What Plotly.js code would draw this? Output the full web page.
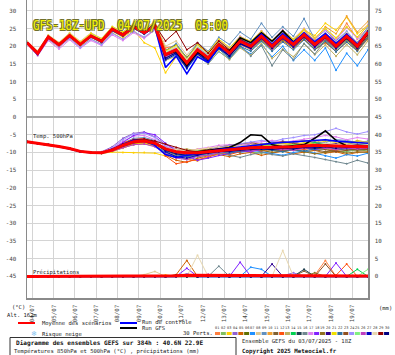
<!DOCTYPE html>
<html><head><meta charset="utf-8">
<script src="https://cdn.plot.ly/plotly-3.0.1.min.js"></script>
<style>html,body{margin:0;padding:0;background:#fff;}#c{width:395px;height:355px;}</style>
</head><body><div id="c"></div>
<script>
// ---------- DATA (12-hourly, from 03/07 18Z to 19/07 18Z) ----------
const runStart = Date.UTC(2025, 6, 3, 18);
const stepHours = 12;
const dayTicks = ['2025-07-04','2025-07-05','2025-07-06','2025-07-07','2025-07-08','2025-07-09','2025-07-10','2025-07-11','2025-07-12','2025-07-13','2025-07-14','2025-07-15','2025-07-16','2025-07-17','2025-07-18','2025-07-19'];
const dayLabels = ['04/07','05/07','06/07','07/07','08/07','09/07','10/07','11/07','12/07','13/07','14/07','15/07','16/07','17/07','18/07','19/07'];
const leftTicks = [-45,-40,-35,-30,-25,-20,-15,-10,-5,0,5,10,15,20,25,30];
const rightTicks = [0,5,10,15,20,25,30,35,40,45,50,55,60,65,70,75];
const memberColors = ['#ff8040','#80c060','#ffd000','#9060d0','#d06000','#607000','#2090ff','#e0c890','#6090c0','#f0a030','#806030','#ff5010','#c0b060','#00d050','#204050','#708890','#e080f0','#8020ff','#907020','#300090','#f0e000','#3070a0','#905020','#a090ff','#80f080','#c040c0','#0000c0','#e8d8b0','#900000','#000080'];

const t850Mean = [21.0,18.0,22.6,20.4,23.0,20.5,22.9,21.4,24.8,23.2,25.5,23.8,25.8,17.6,19.0,15.3,19.0,16.7,20.5,18.1,21.4,20.0,22.8,20.0,22.8,20.5,23.2,20.5,22.8,20.0,22.8,20.0,24.0];
const t850Control = [21.0,17.6,22.4,20.3,22.8,20.4,22.8,21.2,24.6,23.0,25.3,23.6,25.4,14.0,17.2,12.2,17.0,15.4,20.0,17.8,21.6,20.4,23.4,20.6,23.6,21.0,23.8,21.2,23.6,20.8,23.4,20.6,24.2];
const t850Gfs = [21.1,18.2,22.8,20.6,23.1,20.6,23.0,21.6,25.0,23.4,25.8,24.0,26.2,17.5,18.6,14.6,18.4,16.4,20.6,18.6,22.4,21.0,23.8,21.4,24.4,21.2,23.6,20.6,22.6,19.8,22.4,19.8,23.6];
const t850Members = [
[21.2,18.3,22.4,20.6,23.3,20.2,23.1,21.0,24.5,23.6,25.9,24.2,26.3,19.5,20.2,16.0,20.4,17.8,21.9,19.0,22.5,21.3,24.2,21.0,23.8,21.8,24.6,21.2,23.5,21.6,26.5,22.0,25.0],
[20.8,17.8,22.8,20.1,22.7,20.8,22.5,21.6,25.1,22.8,25.0,23.5,25.4,16.5,18.0,14.2,18.1,15.5,19.4,17.0,20.6,19.0,21.5,19.2,21.8,19.6,22.0,19.3,21.8,19.2,21.6,19.0,22.8],
[21.1,18.2,22.5,20.3,23.1,20.6,22.7,21.2,24.3,22.5,24.6,21.0,19.5,12.5,17.0,14.0,18.5,16.0,21.0,18.5,22.0,20.5,23.5,21.0,23.5,22.0,24.5,23.0,26.5,24.5,28.2,23.5,26.0],
[20.9,17.9,22.7,20.5,23.2,20.4,23.0,21.5,25.0,23.4,25.6,24.0,26.0,18.3,19.8,15.0,18.6,16.2,20.0,17.5,21.0,19.6,22.5,19.4,22.2,20.0,22.6,19.8,22.0,19.4,22.3,19.5,23.5],
[21.0,18.4,22.3,20.2,22.8,20.7,23.2,21.3,24.6,23.0,25.3,23.6,25.5,17.0,18.2,14.5,18.0,16.0,19.8,17.2,20.5,19.2,21.8,19.0,21.5,19.5,22.0,19.0,21.0,18.5,21.2,18.8,22.0],
[21.1,18.1,22.6,20.5,23.1,20.4,22.8,21.4,24.9,23.3,25.7,23.9,26.2,18.8,20.5,16.8,20.5,18.0,21.6,19.4,22.6,21.2,24.0,21.4,24.0,21.6,24.2,21.4,23.6,21.0,23.4,21.2,24.6],
[20.8,17.7,22.4,20.3,22.9,20.6,22.6,21.2,24.4,22.9,25.2,23.4,25.5,16.0,17.5,13.6,17.4,15.0,18.5,16.4,19.8,17.8,20.5,17.0,20.0,16.0,19.0,16.0,19.5,13.2,18.0,14.5,19.0],
[21.4,18.7,23.2,21.1,23.8,21.4,23.8,22.2,25.6,24.0,26.4,24.8,27.0,20.0,21.5,17.5,21.0,18.6,22.0,19.6,22.8,21.0,23.6,21.2,24.2,21.8,25.0,22.0,24.8,22.2,25.6,22.4,26.2],
[21.0,18.1,22.8,20.5,23.4,20.9,23.4,21.8,25.2,23.6,26.0,24.2,26.6,18.5,20.8,16.5,21.0,18.5,22.5,20.5,24.0,22.0,26.5,22.5,25.5,22.8,27.8,22.0,24.5,21.5,24.2,21.0,25.5],
[21.1,18.2,22.7,20.4,22.9,20.5,22.8,21.5,24.9,23.3,25.6,23.8,25.7,17.5,19.5,15.8,19.8,17.5,21.0,18.8,22.0,20.6,23.2,20.8,23.4,21.4,24.0,21.8,25.5,23.5,28.5,24.0,27.0],
[20.9,17.9,22.4,20.3,22.8,20.4,22.7,21.1,24.5,22.9,25.2,23.5,25.4,17.2,18.5,14.8,18.4,16.0,19.9,17.6,20.8,19.4,22.0,19.5,22.3,20.0,22.6,19.9,22.2,19.6,22.2,19.4,23.2],
[21.2,18.3,22.8,20.6,23.2,20.7,23.1,21.6,25.0,23.4,25.7,24.0,26.0,18.0,19.3,15.6,19.4,17.2,21.2,18.6,22.0,20.4,23.4,20.4,23.0,20.8,23.6,20.8,23.2,20.4,23.0,20.2,24.2],
[20.7,17.4,21.9,19.7,22.2,19.9,22.0,20.6,23.8,22.0,24.2,22.4,24.6,16.0,17.2,13.8,17.6,15.0,18.6,16.2,19.5,17.5,20.8,16.5,19.2,17.0,20.6,17.6,20.4,17.2,20.5,17.6,21.5],
[21.0,18.1,22.6,20.5,23.0,20.6,23.0,21.5,24.8,23.2,25.5,23.9,25.8,17.8,19.2,15.5,19.3,17.0,20.8,18.4,21.8,20.3,23.0,20.2,23.2,20.8,23.4,20.6,22.5,20.0,23.0,20.5,24.2],
[21.1,18.0,22.5,20.4,23.1,20.5,22.9,21.3,24.7,23.1,25.4,23.8,25.6,17.3,18.8,15.0,18.8,16.5,20.2,17.8,21.0,19.6,22.4,19.6,22.4,20.2,22.8,20.2,22.4,19.8,22.5,19.8,23.6],
[20.9,18.0,22.6,20.3,23.0,20.4,22.8,21.3,24.6,23.0,25.3,23.6,25.6,17.0,18.6,14.6,18.0,15.8,19.6,16.8,20.2,17.2,20.2,14.5,19.0,16.2,20.8,17.8,21.6,18.8,21.8,19.2,22.6],
[20.6,17.3,21.6,19.2,21.8,19.4,21.6,20.2,23.2,21.6,23.8,22.2,24.6,18.0,19.6,15.8,19.8,17.5,21.6,19.4,22.8,21.2,24.4,21.6,24.6,22.0,25.0,22.2,24.6,21.8,25.2,22.2,26.0],
[21.0,18.2,22.7,20.4,23.0,20.5,22.9,21.4,24.8,23.2,25.5,23.8,25.8,17.2,18.4,14.6,18.6,16.4,20.4,17.8,21.2,19.8,22.6,19.8,22.6,20.2,23.0,20.4,22.6,19.8,22.8,19.8,23.8],
[21.2,18.2,22.6,20.5,23.1,20.6,23.0,21.5,24.9,23.3,25.6,23.9,25.9,17.9,19.2,15.2,19.2,16.9,20.6,18.3,21.6,20.2,23.0,20.3,23.0,20.6,23.4,20.8,23.0,20.3,23.0,20.4,24.4],
[21.0,17.9,22.5,20.4,23.0,20.5,22.9,21.4,24.7,23.2,25.4,23.8,25.7,17.4,18.9,15.2,19.1,16.6,20.4,18.0,21.4,20.0,22.9,20.2,22.9,20.6,23.4,20.6,23.0,20.2,23.0,20.2,24.2],
[21.3,18.5,23.0,20.9,23.6,21.1,23.6,22.1,25.5,24.0,26.2,24.6,26.8,18.6,20.2,16.4,20.4,18.2,22.0,19.6,22.6,21.4,24.2,21.6,24.4,22.0,24.8,22.4,25.0,22.4,25.4,22.6,25.8],
[20.8,17.8,22.3,20.1,22.6,20.2,22.5,21.0,24.3,22.8,25.0,23.4,25.3,16.8,18.0,14.0,17.8,15.4,19.2,16.6,20.0,18.6,21.4,18.6,21.2,19.0,21.8,19.0,21.4,18.4,21.2,18.6,22.4],
[21.0,18.1,22.6,20.4,23.0,20.6,22.9,21.4,24.9,23.3,25.6,23.9,25.8,17.6,18.8,15.0,18.6,16.4,20.0,17.6,20.8,19.4,22.2,19.4,22.0,19.8,22.4,19.6,22.0,19.2,22.0,19.0,22.8],
[20.5,17.6,22.0,19.8,22.2,19.6,22.0,20.4,23.6,22.0,24.2,22.6,24.8,17.5,19.4,15.6,19.6,17.3,21.2,18.8,22.2,20.8,23.6,21.0,23.6,21.2,24.0,21.4,23.8,21.0,24.0,21.0,25.2],
[21.1,18.2,22.7,20.5,23.1,20.6,23.0,21.5,24.9,23.3,25.6,23.9,25.9,18.2,19.8,16.0,19.9,17.6,21.2,18.9,22.2,20.8,23.6,20.8,23.4,21.2,23.8,21.2,23.4,20.8,23.6,20.8,24.8],
[20.9,17.9,22.5,20.3,22.9,20.4,22.8,21.3,24.7,23.1,25.4,23.7,25.6,17.0,18.4,14.4,18.2,15.8,19.6,17.4,20.6,19.2,22.2,19.2,22.2,19.8,22.6,19.6,22.2,19.4,22.4,19.6,23.4],
[21.0,18.0,22.6,20.4,23.0,20.5,22.9,21.4,24.8,23.2,25.5,23.8,25.8,16.2,17.8,13.8,17.8,15.6,19.4,17.2,20.6,19.4,22.2,19.4,22.2,19.8,22.6,19.8,22.4,19.4,22.2,19.4,23.4],
[21.2,18.4,22.9,20.7,23.3,20.8,23.2,21.7,25.1,23.5,25.8,24.1,26.0,18.4,19.8,16.2,20.0,17.8,21.6,19.2,22.4,21.0,23.8,21.0,23.6,21.4,24.2,21.2,23.6,21.0,23.8,21.0,24.6],
[21.0,18.1,22.6,20.5,23.0,20.6,23.0,21.4,24.8,23.3,25.6,23.9,26.0,21.5,24.2,19.0,21.0,18.0,21.5,19.0,22.0,20.4,23.2,20.4,23.2,20.8,23.6,20.8,23.2,20.6,23.4,20.6,24.4],
[20.9,17.9,22.5,20.3,22.9,20.4,22.8,21.3,24.6,23.0,25.3,23.6,25.5,16.6,18.2,14.2,18.2,15.8,19.8,17.2,20.8,19.4,22.4,19.6,22.6,20.2,23.0,20.2,22.8,19.8,22.6,19.6,23.6]
];

const t500Mean = [-7.0,-7.4,-7.8,-8.3,-8.9,-9.7,-10.0,-10.1,-9.3,-8.0,-7.0,-6.8,-7.4,-9.0,-9.8,-10.1,-10.1,-9.8,-9.4,-9.2,-9.0,-8.7,-8.6,-8.6,-8.5,-8.4,-8.2,-8.0,-8.1,-8.2,-8.3,-8.4,-8.4];
const t500Control = [-7.0,-7.4,-7.9,-8.4,-9.0,-9.8,-10.1,-10.2,-9.0,-7.8,-6.6,-6.8,-8.0,-10.6,-11.4,-10.8,-10.4,-9.8,-9.2,-8.8,-8.4,-8.0,-7.6,-7.4,-7.2,-7.0,-6.8,-6.6,-6.4,-6.8,-7.0,-7.2,-7.4];
const t500Gfs = [-7.0,-7.4,-7.8,-8.3,-8.9,-9.7,-10.0,-10.1,-9.2,-7.9,-6.9,-6.7,-7.3,-9.0,-9.8,-10.0,-9.8,-9.4,-9.0,-8.6,-7.2,-5.0,-5.2,-7.8,-8.4,-8.2,-7.8,-6.0,-3.9,-6.6,-8.2,-8.6,-8.4];
const t500Members = [
[-7.1,-7.3,-7.9,-8.2,-9.0,-9.6,-10.2,-10.0,-9.0,-7.5,-6.2,-6.0,-7.0,-9.5,-10.5,-11.0,-10.4,-9.6,-9.0,-8.6,-8.8,-8.0,-7.6,-8.4,-8.0,-7.2,-7.6,-7.0,-7.8,-8.2,-7.4,-7.8,-8.0],
[-6.9,-7.5,-7.7,-8.4,-8.8,-9.8,-9.9,-10.3,-9.8,-8.6,-7.8,-7.6,-8.2,-10.2,-11.5,-11.0,-10.8,-10.6,-10.0,-10.4,-9.6,-9.8,-10.2,-9.4,-9.8,-9.2,-10.0,-9.4,-9.0,-9.6,-9.8,-9.2,-9.6],
[-7.0,-7.4,-7.8,-8.3,-8.9,-9.8,-10.1,-10.2,-9.9,-10.0,-10.1,-10.0,-10.2,-11.0,-10.5,-9.8,-10.6,-9.6,-9.0,-8.6,-8.2,-8.8,-9.4,-8.6,-8.0,-7.6,-8.2,-7.4,-6.8,-7.2,-7.8,-6.6,-7.2],
[-7.1,-7.5,-7.9,-8.4,-9.0,-9.6,-10.0,-9.8,-8.4,-6.0,-4.6,-4.2,-5.6,-7.8,-9.0,-9.6,-9.4,-9.0,-8.4,-8.8,-8.2,-7.6,-8.0,-7.2,-6.8,-7.4,-6.6,-7.0,-7.6,-8.0,-7.2,-7.8,-8.0],
[-7.0,-7.3,-7.8,-8.2,-8.8,-9.7,-10.0,-10.2,-9.5,-8.4,-7.4,-7.2,-7.9,-10.8,-12.2,-12.8,-11.6,-11.0,-10.6,-11.2,-10.4,-10.0,-10.8,-10.2,-9.6,-10.4,-10.0,-9.4,-10.2,-9.8,-10.6,-10.0,-9.8],
[-7.0,-7.4,-7.9,-8.3,-8.9,-9.7,-10.0,-10.0,-9.2,-7.8,-6.8,-6.6,-7.2,-8.6,-9.4,-9.6,-9.8,-9.2,-9.6,-9.0,-8.6,-8.8,-8.2,-8.6,-8.8,-8.2,-8.0,-8.4,-8.8,-8.2,-8.6,-8.8,-8.6],
[-6.9,-7.4,-7.7,-8.3,-8.9,-9.6,-10.0,-10.1,-9.4,-8.2,-7.2,-6.9,-7.8,-10.0,-11.2,-12.0,-11.0,-10.2,-10.4,-9.8,-10.0,-9.4,-9.8,-10.4,-10.8,-10.0,-9.6,-10.2,-11.0,-11.6,-10.6,-11.0,-10.2],
[-7.0,-7.4,-7.8,-8.2,-8.8,-9.6,-9.9,-10.0,-9.0,-7.6,-6.6,-6.5,-7.2,-8.8,-9.0,-9.4,-9.2,-9.6,-8.8,-8.4,-8.6,-8.0,-8.2,-7.8,-8.4,-8.0,-7.6,-7.2,-7.8,-7.4,-7.0,-7.6,-7.4],
[-7.0,-7.5,-7.8,-8.3,-8.9,-9.7,-10.1,-10.1,-9.2,-7.4,-6.0,-5.8,-6.6,-9.2,-10.4,-10.8,-10.4,-9.4,-8.8,-9.2,-8.6,-8.0,-7.6,-7.8,-8.4,-8.8,-8.2,-7.8,-7.2,-6.4,-6.6,-7.2,-6.8],
[-7.1,-7.4,-7.8,-8.3,-8.9,-9.7,-10.0,-10.1,-9.6,-8.8,-7.6,-7.2,-7.6,-9.6,-10.8,-11.8,-12.4,-11.0,-10.4,-10.0,-9.6,-9.2,-9.0,-9.6,-9.2,-8.8,-8.4,-9.0,-8.6,-8.0,-8.4,-8.8,-8.2],
[-7.0,-7.3,-7.8,-8.3,-8.9,-9.8,-10.0,-10.2,-9.4,-8.0,-7.0,-6.8,-7.6,-9.2,-9.8,-10.4,-10.8,-10.2,-9.8,-9.4,-9.8,-9.2,-8.8,-9.2,-9.6,-9.0,-8.8,-9.2,-9.8,-9.4,-9.0,-9.4,-9.2],
[-7.0,-7.4,-7.7,-8.3,-8.9,-9.7,-10.0,-10.1,-9.0,-7.2,-6.4,-6.2,-7.4,-11.0,-13.2,-12.6,-12.0,-11.4,-10.2,-10.6,-9.8,-9.2,-9.6,-9.0,-9.4,-8.8,-9.2,-8.6,-8.8,-9.4,-8.8,-9.0,-8.8],
[-6.9,-7.3,-7.8,-8.4,-9.0,-9.8,-10.1,-10.2,-9.6,-8.6,-7.8,-7.6,-8.0,-8.6,-9.2,-9.0,-9.6,-9.2,-8.6,-8.2,-7.8,-8.2,-7.6,-7.2,-7.6,-7.0,-6.6,-7.2,-6.4,-6.8,-7.2,-6.8,-7.0],
[-7.0,-7.4,-7.8,-8.3,-8.9,-9.7,-10.0,-10.0,-9.2,-7.9,-6.9,-6.7,-7.3,-8.8,-9.6,-10.0,-9.8,-9.4,-9.0,-8.8,-8.4,-8.6,-8.0,-7.8,-8.2,-7.6,-7.8,-7.2,-7.6,-8.0,-7.6,-7.8,-7.6],
[-7.0,-7.4,-7.8,-8.3,-8.9,-9.7,-10.0,-10.1,-9.3,-8.1,-7.1,-6.9,-7.5,-9.0,-9.8,-10.2,-10.0,-9.8,-9.4,-9.6,-9.0,-8.8,-8.6,-8.8,-8.4,-8.6,-8.2,-8.4,-8.0,-8.4,-8.2,-8.6,-8.4],
[-7.1,-7.4,-7.8,-8.4,-8.9,-9.8,-10.0,-10.1,-9.4,-8.2,-7.2,-7.0,-7.8,-10.2,-11.0,-10.6,-11.2,-10.8,-10.2,-10.8,-11.4,-10.6,-10.0,-10.6,-11.0,-10.4,-10.8,-11.4,-12.0,-12.6,-13.2,-12.2,-13.0],
[-7.0,-7.3,-7.9,-8.3,-8.8,-9.6,-10.0,-9.9,-8.8,-6.8,-5.4,-5.2,-6.4,-8.2,-9.2,-9.8,-9.0,-8.6,-8.0,-7.8,-8.0,-7.4,-7.0,-6.6,-7.2,-6.8,-6.2,-5.8,-5.2,-5.6,-6.4,-5.8,-6.2],
[-7.0,-7.4,-7.8,-8.2,-8.9,-9.7,-10.0,-10.1,-9.2,-7.2,-5.2,-4.4,-5.0,-7.4,-9.6,-11.0,-12.2,-11.6,-10.8,-10.2,-9.6,-9.8,-9.2,-8.8,-9.4,-9.0,-8.6,-9.2,-8.8,-8.4,-9.0,-8.6,-8.8],
[-7.0,-7.4,-7.8,-8.3,-8.9,-9.7,-10.0,-10.2,-9.4,-8.2,-7.2,-7.0,-7.6,-9.4,-10.2,-10.6,-10.2,-10.0,-9.6,-9.0,-9.2,-8.8,-9.4,-10.0,-9.6,-9.2,-9.8,-10.4,-10.0,-9.6,-10.2,-9.8,-10.0],
[-7.0,-7.4,-7.8,-8.3,-8.9,-9.7,-10.0,-10.1,-9.3,-8.0,-7.0,-6.8,-7.4,-9.0,-9.8,-10.1,-10.1,-9.8,-9.4,-9.2,-9.0,-8.6,-8.4,-8.4,-8.2,-8.0,-7.8,-7.6,-7.8,-7.6,-8.0,-7.8,-8.0],
[-7.1,-7.5,-7.9,-8.3,-8.9,-9.7,-10.0,-10.1,-9.4,-8.4,-7.6,-7.4,-8.0,-9.4,-10.0,-9.6,-9.2,-8.8,-8.6,-8.2,-8.6,-8.0,-7.8,-8.2,-7.4,-7.8,-7.2,-7.6,-8.2,-7.8,-7.4,-7.0,-7.6],
[-7.0,-7.4,-7.7,-8.3,-8.9,-9.6,-10.0,-10.0,-9.1,-7.7,-6.6,-6.4,-7.2,-9.6,-10.6,-11.2,-10.8,-10.4,-9.8,-10.2,-9.6,-9.4,-9.0,-9.4,-9.8,-9.2,-9.6,-9.0,-8.6,-9.0,-9.4,-9.0,-9.2],
[-7.0,-7.4,-7.8,-8.3,-8.9,-9.7,-10.0,-10.1,-9.5,-8.4,-7.4,-7.0,-7.6,-8.8,-9.6,-9.8,-9.6,-9.0,-8.4,-8.0,-7.6,-7.2,-7.8,-7.4,-7.0,-7.4,-8.0,-8.6,-9.2,-9.8,-9.4,-9.0,-9.2],
[-7.0,-7.4,-7.8,-8.3,-8.9,-9.7,-10.0,-10.0,-8.8,-6.4,-4.8,-4.6,-5.8,-8.4,-9.8,-10.4,-10.0,-9.2,-8.6,-8.0,-7.6,-7.0,-6.6,-7.0,-6.2,-5.8,-5.2,-5.0,-4.2,-3.2,-4.2,-4.8,-4.1],
[-7.0,-7.4,-7.8,-8.3,-8.9,-9.7,-10.0,-10.1,-9.3,-8.0,-7.0,-6.7,-7.2,-8.8,-9.6,-9.8,-9.6,-9.4,-9.0,-8.8,-8.6,-8.2,-8.4,-8.0,-8.2,-7.8,-8.0,-7.6,-8.0,-8.4,-8.0,-8.2,-8.0],
[-7.0,-7.4,-7.8,-8.3,-8.9,-9.7,-10.0,-10.2,-9.6,-8.6,-7.8,-7.6,-8.4,-10.4,-11.6,-12.0,-11.0,-10.8,-10.0,-9.6,-9.2,-9.6,-9.0,-8.6,-9.0,-9.4,-8.8,-8.4,-8.8,-9.2,-8.6,-9.0,-8.6],
[-7.0,-7.4,-7.8,-8.3,-8.9,-9.7,-10.0,-10.1,-9.2,-7.8,-6.6,-6.4,-7.0,-9.8,-11.2,-11.6,-10.8,-10.0,-9.6,-9.8,-9.2,-8.8,-9.0,-8.6,-8.4,-8.8,-8.2,-8.6,-8.2,-7.8,-8.2,-8.4,-8.0],
[-7.0,-7.4,-7.8,-8.3,-8.9,-9.7,-10.0,-10.1,-9.4,-8.2,-7.2,-7.0,-7.6,-8.8,-9.2,-9.6,-9.2,-8.8,-8.4,-8.8,-8.2,-8.0,-8.6,-8.2,-7.8,-8.2,-7.6,-8.0,-7.4,-7.8,-7.6,-8.0,-7.8],
[-7.0,-7.4,-7.8,-8.3,-8.9,-9.7,-10.0,-10.1,-9.2,-7.6,-6.4,-6.2,-6.8,-7.6,-8.6,-9.4,-9.8,-9.4,-9.0,-8.6,-8.8,-8.4,-8.2,-8.6,-8.8,-8.4,-8.6,-8.2,-8.0,-8.4,-8.2,-8.0,-8.2],
[-7.0,-7.4,-7.8,-8.3,-8.9,-9.7,-10.0,-10.1,-9.4,-8.2,-7.2,-6.9,-7.6,-9.4,-10.4,-10.8,-10.6,-10.2,-9.8,-9.6,-9.4,-9.2,-9.0,-9.2,-8.8,-9.0,-8.6,-8.8,-8.4,-8.8,-8.6,-8.4,-8.6]
];

const precipMean = [0,0,0,0,0,0,0,0,0,0,0,0.1,0.1,0.1,0.2,0.3,0.3,0.1,0.2,0.1,0.2,0.2,0.1,0.2,0.3,0.1,0.2,0.2,0.3,0.2,0.2,0.2,0.1];
const precipControl = [0,0,0,0,0,0,0,0,0,0,0,0,0,0,0,0.6,0,0,0,0,0,0,0,0,0,0,0,0,0,0,0,0,0];
const precipGfs = [0,0,0,0,0,0,0,0,0,0,0,0,0,0,0,0,0,0,0,0,0,0,0,0,0,0,0,0,0,0,0,0,0];
const precipMembers = [
[0,0,0,0,0,0,0,0,0,0,0,0,0,0,0,0,0,0,0,0,0,0,0,0,0,0,0,0.3,4.5,0,0,0,0],
[0,0,0,0,0,0,0,0,0,0,0,0,0,0,0,0,0,0,0,0,0,0,0,0,0,0,0,0,0,0,0,0,0],
[0,0,0,0,0,0,0,0,0,0,0,0,0,0.4,0,0,0,0,0,0,0,0,0,0,0,0,0,0,0,0,0,0,0],
[0,0,0,0,0,0,0,0,0,0,0,0,0,0,0,0,0,0,0,0,0,0,0,0,0.2,1.0,0,0,0,0,0,0,0],
[0,0,0,0,0,0,0,0,0,0,0,0,0,0,0.5,4.5,0,0,0,0,0,0,0,0,0,0,0,0,0,0,0,0,0],
[0,0,0,0,0,0,0,0,0,0,0,0,0,0,0,0,0,0,0,0,0,0,0,0,0,0,0,0,0,0,0,0,0],
[0,0,0,0,0,0,0,0,0,0,0,0,0,0,0,0,0,0,0,0,0,2.6,2.0,0,0,0,0,0,0,0,0,0,0],
[0,0,0,0,0,0,0,0,0,0,0,0.5,1.4,0,0,0,0,0,0,0,0,0,0,0,0,0,0,0,0,0,0,0,0],
[0,0,0,0,0,0,0,0,0,0,0,0,0,0,0,0,0,0,0,0.6,0,0,0,0,0,0,0,0,0,0,0,0,0],
[0,0,0,0,0,0,0,0,0,0,0,0,0,0,0,0,0,0,0,0,0,0,0,0,0,0,0,0,0,0,0,0,0],
[0,0,0,0,0,0,0,0,0,0,0,0,0,0,0,0,0,0,0,0,0,0,0,0,0,0,1.5,0,0,0,0,0,0],
[0,0,0,0,0,0,0,0,0,0,0,0,0,0,0,0,0,0,0,0,0,0,0,0,0,0,0,0,0,0.3,3.5,0,0],
[0,0,0,0,0,0,0,0,0,0,0,0,0,0,0,0,0,0,0,0,0,0,0,0,0,0,0,0,0,0,0,0,0],
[0,0,0,0,0,0,0,0,0,0,0,0,0,0,0,0,0,0,0,0,0,0,0,0,0,0,0,0,0,0,0,2.0,0],
[0,0,0,0,0,0,0,0,0,0,0,0,0,0,0,0,0,0,0,0,0,0,0,0,0,0,2.0,0,0,0,0,0,0],
[0,0,0,0,0,0,0,0,0,0,0,0,0,0,0,0,0,0,2.9,0,0,0,0,0,0,0,0,0,0,0,0,0,0],
[0,0,0,0,0,0,0,0,0,0,0,0,0,0,0,0,0,0,0,0,0,0,0,0,0,0,0,0,0,0,0,0,0],
[0,0,0,0,0,0,0,0,0,0,0,0,0,0,0,2.3,0,0,0,0,4.0,0,0,0,0,0,0,0,0,3.8,0,0,0],
[0,0,0,0,0,0,0,0,0,0,0,0,0,0,0,0,0,0,0,0,0,0,0,0,0,0,0,1.0,0,0,0,0,0],
[0,0,0,0,0,0,0,0,0,0,0,0,0,0,0,0,0,0,0,0,0,0,0,3.5,0,0,0,0,0,0,0,0,0],
[0,0,0,0,0,0,0,0,0,0,0,0,0,0,0,0,0,0,0,0,0,0,0,0,0,0,0,0,0,0,0,0,0],
[0,0,0,0,0,0,0,0,0,0,0,0,0,0,0,0,0,0,0,0,0,0,0,0,0,0,0,0,0,0,0,0,0],
[0,0,0,0,0,0,0,0,0,0,0,0,0,0,0,0,0,0,0,0,0,0,0,0,0,0,0,0,3.5,0,0,0,0],
[0,0,0,0,0,0,0,0,0,0,0,0,0,0,0,0,0,0,0,0,0,0,0,0,0,0.8,0,0,0,0,0,0,0],
[0,0,0,0,0,0,0,0,0,0,0,0,0,0,0,0,0,0,0,0,0,0,0,0,0,0,0,0,0,0,0,0,2.0],
[0,0,0,0,0,0,0,0,0,0,0,0,0,0,0,0,0,0.6,0,0,0,0,0,0,0,0,0,0,0,0,0,0,0],
[0,0,0,0,0,0,0,0,0,0,0,0,0,0,0,0,0,0,0,0,0,0,0,0,0,0,0,0,0,0,0,0,0],
[0,0,0,0,0,0,0,0,0,0,0,0,0,0,0,0,6.0,0,0,0,0,0,0,0,7.3,0,0,0,0,0,0,0,0],
[0,0,0,0,0,0,0,0,0,0,0,0,0,0,0.4,0,0,0,0,0,0,0,0,0,0,0,0,0,0,0,0,0,0],
[0,0,0,0,0,0,0,0,0,0,0,0,0,0,0,0,0,0,0,0,0,0,0,0,0,0,0,0,0,0,0,0,0]
];

// ---------- BUILD ----------
const times = t850Mean.map((_, i) => new Date(runStart + i * stepHours * 3600e3).toISOString().slice(0,16).replace('T',' '));
const traces = [];
function addSeries(y, color, width, axis, marker) {
  traces.push({x: times, y: y, type: 'scatter', mode: marker ? 'lines+markers' : 'lines',
    yaxis: axis, line: {color: color, width: width}, marker: {size: 2, color: color},
    hoverinfo: 'skip', showlegend: false, cliponaxis: true});
}
precipMembers.forEach((s, k) => addSeries(s, memberColors[k], 1, 'y2', true));
t500Members.forEach((s, k) => addSeries(s, memberColors[k], 1, 'y', true));
t850Members.forEach((s, k) => addSeries(s, memberColors[k], 1, 'y', true));
[[precipGfs, t500Gfs, t850Gfs, '#000000', 1.6], [precipControl, t500Control, t850Control, '#0000ff', 1.6], [precipMean, t500Mean, t850Mean, '#ff0000', 3]].forEach(r => {
  addSeries(r[0], r[3], r[4], 'y2', false);
  addSeries(r[1], r[3], r[4], 'y', false);
  addSeries(r[2], r[3], r[4], 'y', false);
});

// pixel helpers for decorations
const PL = 27, PR = 368, PT = 0, PB = 298;
const px = x => (x - PL) / (PR - PL);
const py = y => (PB - y) / (PB - PT);
const mono = 'DejaVu Sans Mono, Liberation Mono, monospace';
const annotations = [];
function txt(t, x, y, size, opts) {
  annotations.push(Object.assign({text: t, xref: 'paper', yref: 'paper', x: px(x), y: py(y), xanchor: 'left', yanchor: 'middle',
    showarrow: false, font: {family: mono, size: size, color: '#222'}}, opts || {}));
}
txt('GFS-18Z-UPD  04/07/2025  05:00', 31, 25, 10.8, {font: {family: mono, size: 10.8, color: '#f4f400',
  shadow: '-1px -1px 0 #70702a, 1px -1px 0 #70702a, -1px 1px 0 #70702a, 1px 1px 0 #70702a'}});
txt('Temp. 500hPa', 31, 137, 5.5);
txt('Précipitations', 31, 272, 5.5);
txt('(°C)', 10, 307, 5.5);
txt('Alt. 162m', 5, 315, 5.5);
txt('(mm)', 377, 308, 5.5);
txt('Moyenne des scénarios', 40, 323, 5.5);
txt('Run de contrôle', 140, 322, 5.5);
txt('Run GFS', 140, 328, 5.5);
txt('30 Perts.', 181, 333, 5.5);
txt('❄', 29, 334, 7, {font: {family: 'DejaVu Sans', size: 7, color: '#80c0f0'}});
txt('Risque neige', 40, 334, 5.5);
txt('<b>Diagramme des ensembles GEFS sur 384h : 40.6N 22.9E</b>', 14, 343, 6.1, {font: {family: mono, size: 6.1, color: '#111'}});
txt('Températures 850hPa et 500hPa (°C) , précipitations (mm)', 12, 351, 5.5);
txt('Ensemble GEFS du 03/07/2025 - 18Z', 240, 341, 5.5);
txt('<b>Copyright 2025 Meteociel.fr</b>', 240, 351, 5.8, {font: {family: mono, size: 5.8, color: '#111'}});

const shapes = [
  {type: 'line', xref: 'paper', yref: 'y', x0: 0, x1: 1, y0: 0, y1: 0, line: {color: '#a8a8a8', width: 2}},
  {type: 'line', xref: 'paper', yref: 'paper', x0: px(18), x1: px(35), y0: py(323), y1: py(323), line: {color: '#ff0000', width: 2}},
  {type: 'line', xref: 'paper', yref: 'paper', x0: px(120), x1: px(137), y0: py(323), y1: py(323), line: {color: '#0000ff', width: 2}},
  {type: 'line', xref: 'paper', yref: 'paper', x0: px(120), x1: px(137), y0: py(328), y1: py(328), line: {color: '#000000', width: 2}},
  {type: 'rect', xref: 'paper', yref: 'paper', x0: px(10), x1: px(236), y0: py(337.5), y1: py(360), line: {color: '#333', width: 1}, fillcolor: 'rgba(0,0,0,0)'}
];
memberColors.forEach((c, k) => {
  const x0 = 215 + k * 5.83;
  shapes.push({type: 'rect', xref: 'paper', yref: 'paper', x0: px(x0), x1: px(x0 + 5), y0: py(335), y1: py(332), line: {width: 0}, fillcolor: c});
  annotations.push({text: String(k + 1).padStart(2, '0'), xref: 'paper', yref: 'paper', x: px(x0 + 2.5), y: py(327.5), xanchor: 'center', yanchor: 'middle',
    showarrow: false, font: {family: mono, size: 3.6, color: '#333'}});
});

const layout = {
  width: 395, height: 355, margin: {l: PL, r: 395 - PR, t: PT, b: 355 - PB},
  paper_bgcolor: '#ffffff', plot_bgcolor: '#ffffff', showlegend: false,
  xaxis: {type: 'date', range: [times[0], times[times.length - 1]], tickvals: dayTicks, ticktext: dayLabels, tickangle: -90,
    showgrid: true, gridcolor: '#d4d4d4', gridwidth: 1, showline: true, linecolor: '#8a8a8a', linewidth: 1.5,
    ticks: '', tickfont: {family: mono, size: 5.8, color: '#444'}, ticklabelstandoff: 3, zeroline: false},
  yaxis: {range: [-51.1, 33.05], tickvals: leftTicks, ticktext: leftTicks.map(String), showgrid: true, gridcolor: '#d4d4d4', gridwidth: 1,
    showline: true, linecolor: '#8a8a8a', linewidth: 1.5, zeroline: false, ticks: '', ticklabelstandoff: 8,
    tickfont: {family: mono, size: 5.8, color: '#444'}},
  yaxis2: {range: [-6.1, 78.05], overlaying: 'y', side: 'right', tickvals: rightTicks, ticktext: rightTicks.map(String), showgrid: false,
    showline: true, linecolor: '#8a8a8a', linewidth: 1.5, zeroline: false, ticks: '', ticklabelstandoff: 4,
    tickfont: {family: mono, size: 5.8, color: '#444'}},
  annotations: annotations, shapes: shapes
};
Plotly.newPlot('c', traces, layout, {staticPlot: true, displayModeBar: false}).then(() => {
  const t = document.querySelector('.annotation[data-index="0"] text');
  if (t) { t.style.transformBox = 'fill-box'; t.style.transformOrigin = 'center'; t.style.transform = 'scale(1,1.25)'; }
});
</script></body></html>
